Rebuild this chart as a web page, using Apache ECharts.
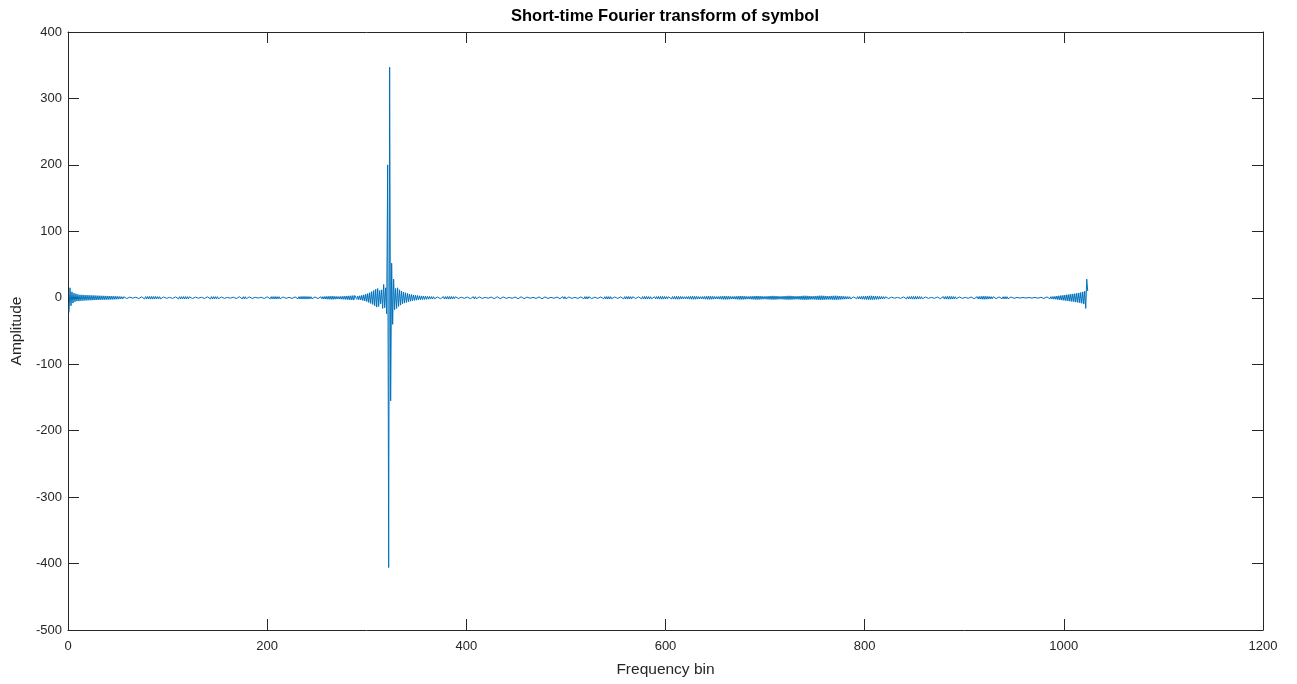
<!DOCTYPE html>
<html>
<head>
<meta charset="utf-8">
<title>Short-time Fourier transform of symbol</title>
<script src="https://cdn.jsdelivr.net/npm/echarts@6/dist/echarts.min.js"></script>
<style>
  html, body { margin: 0; padding: 0; background: #ffffff; }
  #chart { width: 1297px; height: 684px; }
</style>
</head>
<body>
<div id="chart"></div>
<script>
// Axis tick values
var binTicks = [0, 200, 400, 600, 800, 1000, 1200];
var ampTicks = [-500, -400, -300, -200, -100, 0, 100, 200, 300, 400];

// Amplitude per frequency bin (bins 1..1024), 32 bins per row
var amplitude = [
  -22,15,-12,9,-8,7,-6,6,-5,5,-5,4.5,-4.5,4.4,-4.3,4.2,-4.1,4,-4,3.9,-3.8,3.8,-3.7,3.6,-3.6,3.5,-3.4,3.4,-3.3,3.2,-3.2,3.1,
  -3.1,3,-3,2.9,-2.9,2.8,-2.8,2.7,-2.7,2.6,-2.6,2.5,-2.5,2.4,-2.3,2.3,-2.2,2.1,-2,1.9,-1.8,1.7,-1.6,1.5,-1.4,1.3,-1.2,1.1,-1,0.9,-0.8,0.7,
  -0.6,0.6,-0.7,0.8,-0.9,1,-1.1,1.2,-1.3,1.4,-1.5,1.6,-1.7,1.8,-1.8,1.9,-1.9,2,-2,2,-2,2,-1.9,1.9,-1.8,1.8,-1.7,1.6,-1.5,1.4,-1.3,1.2,
  -1.1,1,-0.9,0.8,-0.7,0.7,-0.8,0.9,-1,1.1,-1.2,1.3,-1.4,1.5,-1.6,1.6,-1.7,1.7,-1.8,1.8,-1.8,1.8,-1.7,1.7,-1.6,1.5,-1.4,1.3,-1.2,1.1,-1,0.9,
  -0.8,0.7,-0.6,0.6,-0.7,0.8,-0.9,1,-1.1,1.2,-1.3,1.4,-1.5,1.6,-1.6,1.7,-1.7,1.7,-1.7,1.7,-1.6,1.6,-1.5,1.4,-1.3,1.2,-1.1,1,-0.9,0.8,-0.7,0.6,
  -0.5,0.5,-0.6,0.7,-0.8,0.9,-1,1.1,-1.2,1.3,-1.4,1.5,-1.5,1.6,-1.6,1.6,-1.6,1.6,-1.5,1.5,-1.4,1.3,-1.2,1.1,-1,0.9,-0.8,0.7,-0.6,0.5,-0.5,0.6,
  -0.7,0.8,-0.9,1,-1.1,1.2,-1.3,1.4,-1.5,1.6,-1.6,1.7,-1.7,1.8,-1.8,1.8,-1.8,1.7,-1.7,1.6,-1.5,1.4,-1.3,1.2,-1.1,1,-0.9,0.8,-0.7,0.7,-0.8,0.9,
  -1,1.1,-1.2,1.3,-1.4,1.5,-1.6,1.7,-1.8,1.9,-1.9,2,-2,2,-2,1.9,-1.9,1.8,-1.7,1.6,-1.5,1.4,-1.3,1.2,-1.1,1.1,-1.2,1.3,-1.4,1.5,-1.6,1.7,
  -1.8,1.9,-2,2.1,-2.2,2.3,-2.3,2.4,-2.4,2.4,-2.3,2.2,-2.1,2,-1.9,1.9,-2,2.1,-2.2,2.3,-2.4,2.5,-2.6,2.7,-2.8,2.9,-3,3.1,-3.2,3.3,-3.4,3.5,
  2.2,-2.4,2.6,-2.8,3,-3.3,3.6,-4,4.4,-4.8,5.3,-5.8,6.4,-7,7.7,-8.5,9.3,-10,11,-12,13,-14,14,-13,11,-9,12,-16,20,-15,15,-24,
  200,-406,347,-155,52,-40,28,-18,14,-16,15,-13,12,-11,10,-9,8.5,-8,7.5,-7,6.5,-6,5.5,-5.2,4.9,-4.6,4.3,-4,3.8,-3.6,3.4,-3.2,
  3,-2.9,2.8,-2.7,2.6,-2.5,2.4,-2.3,2.2,-2.1,2,-1.9,1.8,-1.7,1.6,-1.5,1.4,-1.3,1.2,-1.2,1.3,-1.4,1.5,-1.6,1.7,-1.8,1.8,-1.9,1.9,-2,2,-2,
  1.9,-1.8,1.7,-1.6,1.5,-1.4,1.3,-1.1,1,-0.9,0.8,-0.7,0.7,-0.8,0.9,-1,1.1,-1.2,1.3,-1.4,1.5,-1.5,1.6,-1.6,1.6,-1.5,1.5,-1.4,1.3,-1.2,1.1,-1,
  0.9,-0.8,0.7,-0.6,0.6,-0.7,0.8,-0.9,1,-1.1,1.2,-1.3,1.4,-1.4,1.5,-1.5,1.5,-1.4,1.4,-1.3,1.2,-1.1,1,-0.9,0.8,-0.7,0.6,-0.6,0.7,-0.8,0.9,-1,
  1.1,-1.2,1.3,-1.4,1.4,-1.5,1.5,-1.5,1.4,-1.3,1.2,-1.1,1,-0.9,0.8,-0.7,0.6,-0.6,0.7,-0.8,0.9,-1,1.1,-1.2,1.3,-1.4,1.5,-1.5,1.5,-1.4,1.3,-1.2,
  1.1,-1,0.9,-0.8,0.7,-0.6,0.6,-0.7,0.8,-0.9,1,-1.1,1.2,-1.3,1.4,-1.5,1.6,-1.6,1.6,-1.5,1.4,-1.3,1.2,-1.1,1,-0.9,0.8,-0.7,0.7,-0.8,0.9,-1,
  1.1,-1.2,1.3,-1.4,1.5,-1.6,1.7,-1.7,1.7,-1.6,1.5,-1.4,1.3,-1.2,1.1,-1,0.9,-0.8,0.8,-0.9,1,-1.1,1.2,-1.3,1.4,-1.5,1.6,-1.7,1.8,-1.8,1.8,-1.7,
  1.6,-1.5,1.4,-1.3,1.2,-1.1,1,-1,1.1,-1.2,1.3,-1.4,1.5,-1.6,1.7,-1.8,1.9,-1.9,1.9,-1.8,1.7,-1.6,1.5,-1.4,1.3,-1.2,1.2,-1.3,1.4,-1.5,1.6,-1.7,
  1.8,-1.9,2,-2,2,-1.9,1.8,-1.7,1.6,-1.5,1.4,-1.4,1.5,-1.6,1.7,-1.8,1.9,-2,2.1,-2.1,2.1,-2,1.9,-1.8,1.7,-1.6,1.5,-1.5,1.6,-1.7,1.8,-1.9,
  2,-2.1,2.2,-2.2,2.2,-2.1,2,-1.9,1.8,-1.7,1.6,-1.6,1.7,-1.8,1.9,-2,2.1,-2.2,2.3,-2.3,2.3,-2.2,2.1,-2,1.9,-1.8,1.7,-1.7,1.8,-1.9,2,-2.1,
  2.2,-2.3,2.4,-2.4,2.4,-2.3,2.2,-2.1,2,-1.9,1.8,-1.8,1.9,-2,2.1,-2.2,2.3,-2.4,2.5,-2.5,2.5,-2.4,2.3,-2.2,2.1,-2,1.9,-1.9,2,-2.1,2.2,-2.3,
  2.4,-2.5,2.6,-2.6,2.6,-2.5,2.4,-2.3,2.2,-2.1,2,-2,2.1,-2.2,2.3,-2.4,2.5,-2.6,2.7,-2.7,2.7,-2.6,2.5,-2.4,2.3,-2.2,2.1,-2.1,2.2,-2.3,2.4,-2.5,
  2.6,-2.7,2.8,-2.8,2.8,-2.7,2.6,-2.5,2.4,-2.3,2.2,-2.2,2.3,-2.4,2.5,-2.6,2.7,-2.8,2.9,-2.9,2.9,-2.8,2.7,-2.6,2.5,-2.4,2.3,-2.3,2.4,-2.5,2.6,-2.7,
  2.8,-2.9,3,-3,3,-2.9,2.8,-2.7,2.6,-2.5,2.4,-2.4,2.5,-2.6,2.7,-2.8,2.9,-3,3.1,-3.1,3.1,-3,2.9,-2.8,2.7,-2.6,2.5,-2.5,2.6,-2.7,2.8,-2.9,
  3,-3,3,-2.9,2.8,-2.7,2.6,-2.5,2.4,-2.3,2.2,-2.1,2,-1.9,1.8,-1.7,1.6,-1.5,1.4,-1.3,1.3,-1.4,1.5,-1.6,1.7,-1.8,1.9,-2,2.1,-2.2,2.3,-2.4,
  2.5,-2.6,2.7,-2.8,2.9,-2.9,2.9,-2.8,2.7,-2.6,2.5,-2.4,2.3,-2.2,2.1,-2,1.9,-1.8,1.7,-1.6,1.5,-1.4,1.3,-1.2,1.1,-1,0.9,-0.8,0.7,-0.6,0.5,-0.5,
  0.6,-0.7,0.8,-0.9,1,-1.1,1.2,-1.3,1.4,-1.5,1.6,-1.7,1.8,-1.9,2,-2,2.1,-2.1,2.1,-2,2,-1.9,1.8,-1.7,1.6,-1.5,1.4,-1.3,1.2,-1.1,1,-0.9,
  0.8,-0.7,0.6,-0.6,0.7,-0.8,0.9,-1,1.1,-1.2,1.3,-1.4,1.5,-1.6,1.7,-1.8,1.9,-2,2,-2.1,2.1,-2.1,2,-1.9,1.8,-1.7,1.6,-1.5,1.4,-1.3,1.2,-1.1,
  1,-0.9,0.8,-0.7,0.6,-0.6,0.7,-0.8,0.9,-1,1.1,-1.2,1.3,-1.4,1.5,-1.6,1.7,-1.8,1.9,-2,2.1,-2.2,2.3,-2.3,2.3,-2.2,2.1,-2,1.9,-1.8,1.7,-1.6,
  1.5,-1.4,1.3,-1.2,1.2,-1.1,1.2,-1.3,1.4,-1.5,1.6,-1.7,1.7,-1.7,1.6,-1.5,1.4,-1.3,1.2,-1.1,1,-0.9,0.8,-0.7,0.6,-0.5,0.5,-0.4,0.4,-0.4,0.4,-0.4,
  0.4,-0.4,0.4,-0.4,0.4,-0.4,0.4,-0.4,0.4,-0.5,0.5,-0.5,0.5,-0.6,0.6,-0.7,0.7,-0.8,0.9,-1,1.1,-1.2,1.3,-1.4,1.5,-1.6,1.7,-1.8,1.9,-2,2.2,-2.4,
  2.6,-2.8,3,-3.2,3.4,-3.6,3.8,-4,4.2,-4.4,4.6,-4.8,5,-5.2,5.4,-5.6,5.8,-6,6.2,-6.5,6.8,-7,7.4,-7.6,8,-8.3,8.8,-9.5,10,-16,28,10
];

var points = amplitude.map(function (v, i) { return [i + 1, v]; });

var fontFamily = '"Liberation Sans", Arial, Helvetica, sans-serif';
var axisColor = '#262626';
var labelColor = '#262626';

var chart = echarts.init(document.getElementById('chart'), null, { renderer: 'canvas' });

function plainNumber(v) { return String(v); }

function xAxisDef(pos, showLabels) {
  return {
    type: 'value',
    position: pos,
    min: binTicks[0],
    max: binTicks[binTicks.length - 1],
    interval: binTicks[1] - binTicks[0],
    axisLine: { show: true, onZero: false, lineStyle: { color: axisColor, width: 1 } },
    axisTick: { show: true, inside: true, length: 11, lineStyle: { color: axisColor, width: 1 } },
    axisLabel: { show: showLabels, margin: 10, color: labelColor, fontSize: 13, fontFamily: fontFamily,
                 formatter: plainNumber, showMinLabel: true, showMaxLabel: true },
    splitLine: { show: false }
  };
}

function yAxisDef(pos, showLabels) {
  return {
    type: 'value',
    position: pos,
    min: ampTicks[0],
    max: ampTicks[ampTicks.length - 1],
    interval: ampTicks[1] - ampTicks[0],
    axisLine: { show: true, onZero: false, lineStyle: { color: axisColor, width: 1 } },
    axisTick: { show: true, inside: true, length: 11, lineStyle: { color: axisColor, width: 1 } },
    axisLabel: { show: showLabels, margin: 6, color: labelColor, fontSize: 13, fontFamily: fontFamily,
                 formatter: plainNumber, showMinLabel: true, showMaxLabel: true },
    splitLine: { show: false }
  };
}

var xBottom = xAxisDef('bottom', true);
xBottom.name = 'Frequency bin';
xBottom.nameLocation = 'middle';
xBottom.nameGap = 32;
xBottom.nameTextStyle = { color: labelColor, fontSize: 15.5, fontFamily: fontFamily };

var yLeft = yAxisDef('left', true);
yLeft.name = 'Amplitude';
yLeft.nameLocation = 'middle';
yLeft.nameGap = 43;
yLeft.nameTextStyle = { color: labelColor, fontSize: 15.5, fontFamily: fontFamily };

chart.setOption({
  animation: false,
  backgroundColor: '#ffffff',
  grid: { left: 68, top: 32, right: 34, bottom: 54, containLabel: false },
  xAxis: [xBottom, xAxisDef('top', false)],
  yAxis: [yLeft, yAxisDef('right', false)],
  graphic: [{
    type: 'text',
    x: 665,
    y: 16,
    style: {
      text: 'Short-time Fourier transform of symbol',
      align: 'center',
      verticalAlign: 'middle',
      fill: '#000000',
      font: 'bold 16.5px ' + fontFamily
    }
  }],
  series: [{
    type: 'line',
    xAxisIndex: 0,
    yAxisIndex: 0,
    data: points,
    showSymbol: false,
    symbol: 'none',
    lineStyle: { color: '#0072BD', width: 1 },
    silent: true
  }]
});
</script>
</body>
</html>
